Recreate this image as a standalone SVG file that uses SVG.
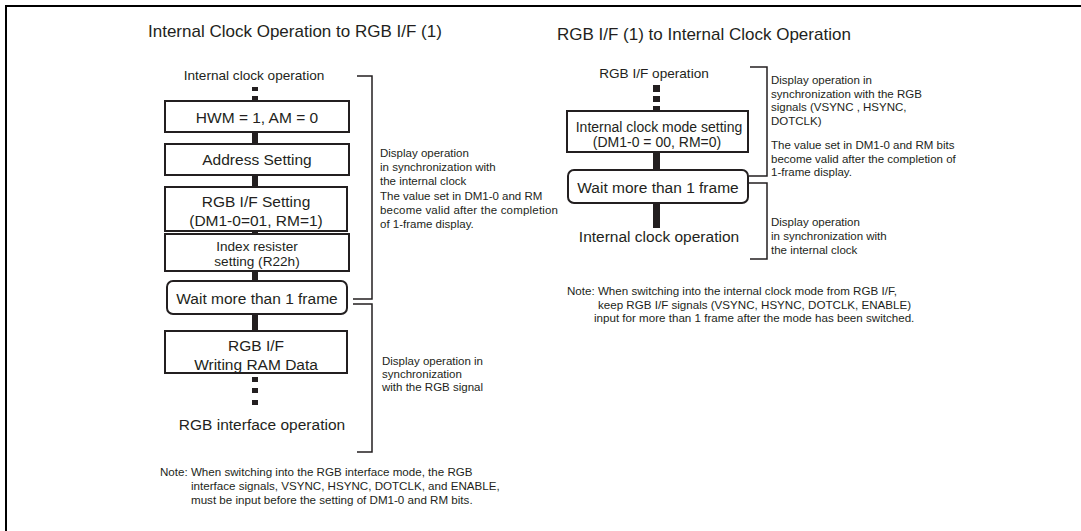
<svg xmlns="http://www.w3.org/2000/svg" width="1081" height="531" viewBox="0 0 1081 531">
<style>
.t{font-family:"Liberation Sans",Arial,sans-serif;fill:#231f20}
.title{font-size:17px}
.bx{font-size:15.5px;text-anchor:middle}
.bs{font-size:13.6px;text-anchor:middle}
.lb{font-size:11.5px}
.nt{font-size:11.6px}
.box{fill:#fff;stroke:#231f20;stroke-width:2}
.br{fill:none;stroke:#231f20;stroke-width:1.5}
.bar{fill:#231f20}
</style>
<rect width="1081" height="531" fill="#fff"/>
<path d="M6,531 V6 H1081" fill="none" stroke="#000" stroke-width="2"/>

<text class="t title" x="148" y="37">Internal Clock Operation to RGB I/F (1)</text>
<text class="t title" x="557" y="40">RGB I/F (1) to Internal Clock Operation</text>

<g id="connectors">
  <rect class="bar" x="252" y="87" width="6" height="4"/>
  <rect class="bar" x="252" y="96" width="6" height="5"/>
  <rect class="bar" x="252" y="132" width="6" height="12"/>
  <rect class="bar" x="252" y="175" width="6" height="12"/>
  <rect class="bar" x="252" y="231" width="6" height="3"/>
  <rect class="bar" x="252" y="271" width="6" height="10"/>
  <rect class="bar" x="252" y="314" width="6" height="17"/>
  <rect class="bar" x="252" y="377" width="6" height="5"/>
  <rect class="bar" x="252" y="388" width="6" height="5"/>
  <rect class="bar" x="252" y="400" width="6" height="5"/>
  <rect class="bar" x="653" y="85" width="7" height="7"/>
  <rect class="bar" x="653" y="96" width="7" height="6"/>
  <rect class="bar" x="653" y="106" width="7" height="5"/>
  <rect class="bar" x="653" y="152" width="7" height="18"/>
  <rect class="bar" x="653" y="203" width="7" height="25"/>
  <path class="br" d="M357,76 H372 V299 H353"/>
  <path class="br" d="M353,304 H372 V452 H357"/>
  <path class="br" d="M750,67 H767 V176 H749"/>
  <path class="br" d="M749,183 H767 V259 H750"/>
</g>

<g id="start-left"><text class="t bs" x="254" y="80">Internal clock operation</text></g>
<g id="hwm"><rect class="box" x="165" y="101" width="184" height="31"/><text class="t bx" x="257" y="123">HWM = 1, AM = 0</text></g>
<g id="addr"><rect class="box" x="165" y="144" width="184" height="31"/><text class="t bx" x="257" y="165">Address Setting</text></g>
<g id="rgbset"><rect class="box" x="165" y="187" width="182" height="44"/><text class="t bx" x="256" y="207">RGB I/F Setting</text><text class="t bx" x="256" y="226">(DM1-0=01, RM=1)</text></g>
<g id="index"><rect class="box" x="165" y="234" width="184" height="37"/><text class="t bs" x="257" y="251">Index resister</text><text class="t bs" x="257" y="266">setting (R22h)</text></g>
<g id="wait-left"><rect class="box" x="167" y="281" width="180" height="33" rx="6"/><text class="t bx" x="257" y="304">Wait more than 1 frame</text></g>
<g id="writeram"><rect class="box" x="165" y="331" width="182" height="42"/><text class="t bx" x="256" y="351">RGB I/F</text><text class="t bx" x="256" y="370">Writing RAM Data</text></g>
<g id="end-left"><text class="t bx" x="262" y="430">RGB interface operation</text></g>

<g id="label-left1">
<text class="t lb" x="380" y="157">Display operation</text>
<text class="t lb" x="380" y="171">in synchronization with</text>
<text class="t lb" x="380" y="185">the internal clock</text>
<text class="t lb" x="380" y="200">The value set in DM1-0 and RM</text>
<text class="t lb" x="380" y="214" textLength="178" lengthAdjust="spacing">become valid after the completion</text>
<text class="t lb" x="380" y="228">of 1-frame display.</text>
</g>
<g id="label-left2">
<text class="t lb" x="382" y="365">Display operation in</text>
<text class="t lb" x="382" y="378">synchronization</text>
<text class="t lb" x="382" y="391">with the RGB signal</text>
</g>
<g id="note-left">
<text class="t nt" x="160" y="476">Note: When switching into the RGB interface mode, the RGB</text>
<text class="t nt" x="191" y="490">interface signals, VSYNC, HSYNC, DOTCLK, and ENABLE,</text>
<text class="t nt" x="191" y="504">must be input before the setting of DM1-0 and RM bits.</text>
</g>

<g id="start-right"><text class="t bs" x="654" y="78">RGB I/F operation</text></g>
<g id="intset"><rect class="box" x="567" y="111" width="181" height="41"/><text class="t bs" x="659" y="132" style="font-size:14px">Internal clock mode setting</text><text class="t bs" x="657" y="147" style="font-size:14px">(DM1-0 = 00, RM=0)</text></g>
<g id="wait-right"><rect class="box" x="568" y="170" width="180" height="33" rx="6"/><text class="t bx" x="658" y="193">Wait more than 1 frame</text></g>
<g id="end-right"><text class="t bx" x="659" y="242">Internal clock operation</text></g>

<g id="label-right1">
<text class="t lb" x="771" y="84">Display operation in</text>
<text class="t lb" x="771" y="98">synchronization with the RGB</text>
<text class="t lb" x="771" y="111">signals (VSYNC , HSYNC,</text>
<text class="t lb" x="771" y="125">DOTCLK)</text>
<text class="t lb" x="771" y="149">The value set in DM1-0 and RM bits</text>
<text class="t lb" x="771" y="163">become valid after the completion of</text>
<text class="t lb" x="771" y="176">1-frame display.</text>
</g>
<g id="label-right2">
<text class="t lb" x="771" y="226">Display operation</text>
<text class="t lb" x="771" y="240">in synchronization with</text>
<text class="t lb" x="771" y="254">the internal clock</text>
</g>
<g id="note-right">
<text class="t nt" x="567" y="295">Note: When switching into the internal clock mode from RGB I/F,</text>
<text class="t nt" x="598" y="309">keep RGB I/F signals (VSYNC, HSYNC, DOTCLK, ENABLE)</text>
<text class="t nt" x="594" y="322">input for more than 1 frame after the mode has been switched.</text>
</g>
</svg>
